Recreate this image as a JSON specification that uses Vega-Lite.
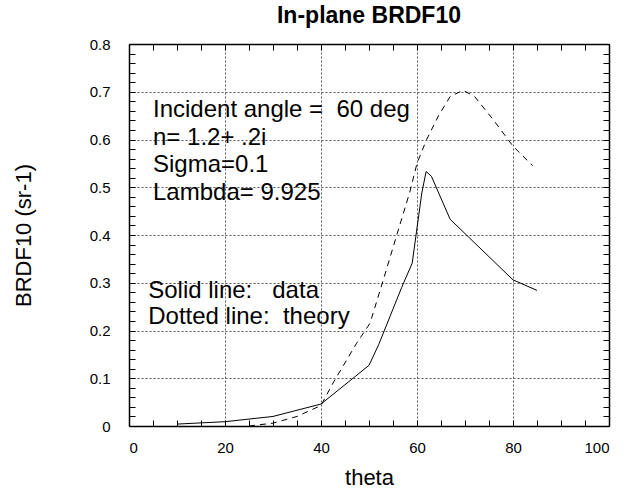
{
  "$schema": "https://vega.github.io/schema/vega-lite/v6.json",
  "autosize": "none",
  "width": 480,
  "height": 382,
  "padding": {"left": 129, "top": 44, "right": 25, "bottom": 66},
  "background": "white",
  "config": {
    "font": "Liberation Sans",
    "view": {"stroke": null},
    "axis": {
      "domainColor": "black",
      "domainWidth": 1.5,
      "tickColor": "black",
      "tickSize": -6,
      "tickWidth": 1,
      "gridColor": "#555555",
      "gridDash": [2, 2],
      "gridWidth": 1,
      "labelColor": "black",
      "titleColor": "black",
      "labelFont": "Liberation Sans",
      "titleFont": "Liberation Sans",
      "labelFontSize": 15,
      "titleFontSize": 22,
      "titleFontWeight": "normal"
    }
  },
  "title": {
    "text": "In-plane BRDF10",
    "font": "Liberation Sans",
    "fontSize": 23,
    "fontWeight": "bold",
    "color": "black",
    "offset": 9,
    "anchor": "middle"
  },
  "datasets": {
    "curves": [
      {"series": "data", "theta": 10, "brdf": 0.004},
      {"series": "data", "theta": 20, "brdf": 0.009},
      {"series": "data", "theta": 30, "brdf": 0.02},
      {"series": "data", "theta": 40, "brdf": 0.046},
      {"series": "data", "theta": 50, "brdf": 0.127},
      {"series": "data", "theta": 52, "brdf": 0.17},
      {"series": "data", "theta": 56.8, "brdf": 0.29},
      {"series": "data", "theta": 59, "brdf": 0.341},
      {"series": "data", "theta": 61, "brdf": 0.488},
      {"series": "data", "theta": 61.9, "brdf": 0.533},
      {"series": "data", "theta": 63, "brdf": 0.523},
      {"series": "data", "theta": 66.9, "brdf": 0.433},
      {"series": "data", "theta": 80, "brdf": 0.306},
      {"series": "data", "theta": 85, "brdf": 0.284},
      {"series": "theory", "theta": 25, "brdf": 0.0},
      {"series": "theory", "theta": 30, "brdf": 0.006},
      {"series": "theory", "theta": 35, "brdf": 0.02},
      {"series": "theory", "theta": 40, "brdf": 0.043},
      {"series": "theory", "theta": 42.5, "brdf": 0.09},
      {"series": "theory", "theta": 47.4, "brdf": 0.173},
      {"series": "theory", "theta": 50.2, "brdf": 0.215},
      {"series": "theory", "theta": 52.5, "brdf": 0.29},
      {"series": "theory", "theta": 55.7, "brdf": 0.397},
      {"series": "theory", "theta": 58.5, "brdf": 0.49},
      {"series": "theory", "theta": 60, "brdf": 0.55},
      {"series": "theory", "theta": 62, "brdf": 0.6},
      {"series": "theory", "theta": 64.5, "brdf": 0.65},
      {"series": "theory", "theta": 66.9, "brdf": 0.69},
      {"series": "theory", "theta": 69.6, "brdf": 0.703},
      {"series": "theory", "theta": 72, "brdf": 0.69},
      {"series": "theory", "theta": 76, "brdf": 0.64},
      {"series": "theory", "theta": 80, "brdf": 0.586},
      {"series": "theory", "theta": 84.1, "brdf": 0.545}
    ],
    "notes": [
      {"theta": 5, "brdf": 0.662, "label": "Incident angle =\u00a0\u00a060 deg"},
      {"theta": 5, "brdf": 0.604, "label": "n= 1.2+ .2i"},
      {"theta": 5, "brdf": 0.547, "label": "Sigma=0.1"},
      {"theta": 5, "brdf": 0.488, "label": "Lambda= 9.925"},
      {"theta": 4, "brdf": 0.282, "label": "Solid line:\u00a0\u00a0\u00a0data"},
      {"theta": 4, "brdf": 0.229, "label": "Dotted line:\u00a0\u00a0theory"}
    ]
  },
  "layer": [
    {
      "data": {"name": "curves"},
      "transform": [{"filter": "datum.series === 'data'"}],
      "mark": {"type": "line", "color": "black", "strokeWidth": 1},
      "encoding": {
        "x": {
          "field": "theta", "type": "quantitative",
          "scale": {"domain": [0, 100], "nice": false, "zero": false},
          "axis": {
            "orient": "bottom",
            "title": "theta",
            "values": [0,5,10,15,20,25,30,35,40,45,50,55,60,65,70,75,80,85,90,95,100],
            "labelExpr": "datum.value % 20 === 0 ? format(datum.value, 'd') : ''",
            "grid": true,
            "gridOpacity": {"condition": {"test": "datum.value % 20 === 0 && datum.value > 0 && datum.value < 100", "value": 1}, "value": 0},
            "labelPadding": 20,
            "titlePadding": 12
          }
        },
        "y": {
          "field": "brdf", "type": "quantitative",
          "scale": {"domain": [0, 0.8], "nice": false, "zero": false},
          "axis": {
            "orient": "left",
            "title": "BRDF10 (sr-1)",
            "values": [0,0.02,0.04,0.06,0.08,0.1,0.12,0.14,0.16,0.18,0.2,0.22,0.24,0.26,0.28,0.3,0.32,0.34,0.36,0.38,0.4,0.42,0.44,0.46,0.48,0.5,0.52,0.54,0.56,0.58,0.6,0.62,0.64,0.66,0.68,0.7,0.72,0.74,0.76,0.78,0.8],
            "labelExpr": "round(datum.value * 100) % 10 === 0 ? format(datum.value, '~g') : ''",
            "grid": true,
            "gridOpacity": {"condition": {"test": "round(datum.value * 100) % 10 === 0 && datum.value > 0.001 && datum.value < 0.799", "value": 1}, "value": 0},
            "labelPadding": 25,
            "titlePadding": 54
          }
        }
      }
    },
    {
      "data": {"name": "curves"},
      "transform": [{"filter": "datum.series === 'theory'"}],
      "mark": {"type": "line", "color": "black", "strokeWidth": 1, "strokeDash": [6, 5]},
      "encoding": {
        "x": {
          "field": "theta", "type": "quantitative",
          "axis": {
            "orient": "top", "title": null, "labels": false, "grid": false,
            "values": [0,5,10,15,20,25,30,35,40,45,50,55,60,65,70,75,80,85,90,95,100]
          }
        },
        "y": {
          "field": "brdf", "type": "quantitative",
          "axis": {
            "orient": "right", "title": null, "labels": false, "grid": false,
            "values": [0,0.02,0.04,0.06,0.08,0.1,0.12,0.14,0.16,0.18,0.2,0.22,0.24,0.26,0.28,0.3,0.32,0.34,0.36,0.38,0.4,0.42,0.44,0.46,0.48,0.5,0.52,0.54,0.56,0.58,0.6,0.62,0.64,0.66,0.68,0.7,0.72,0.74,0.76,0.78,0.8]
          }
        }
      }
    },
    {
      "data": {"name": "notes"},
      "mark": {"type": "text", "align": "left", "baseline": "middle", "font": "Liberation Sans", "fontSize": 24, "color": "black"},
      "encoding": {
        "x": {"field": "theta", "type": "quantitative", "axis": null},
        "y": {"field": "brdf", "type": "quantitative", "axis": null},
        "text": {"field": "label"}
      }
    }
  ],
  "resolve": {"axis": {"x": "independent", "y": "independent"}}
}
